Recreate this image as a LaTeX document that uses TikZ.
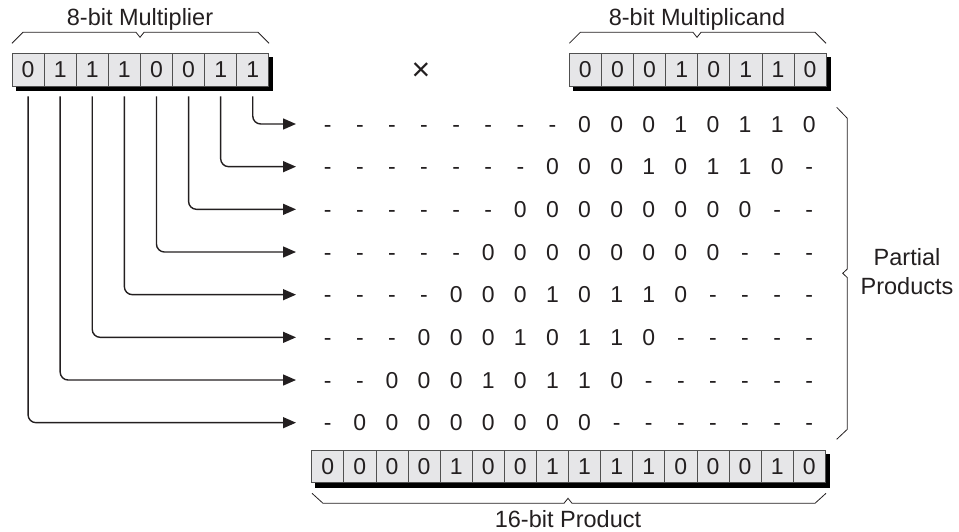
\documentclass[tikz,border=0pt]{standalone}
\usepackage{fontspec}
\setmainfont{Liberation Sans}
\usetikzlibrary{arrows.meta,calc,backgrounds}
\definecolor{ink}{HTML}{231F20}
\definecolor{cellfill}{HTML}{E6E6E8}
\definecolor{cellline}{HTML}{505050}
\begin{document}
\begin{tikzpicture}[x=1pt,y=-1pt,
  cell/.style={draw=cellline, fill=cellfill, line width=0.8pt, minimum width=32.1pt, minimum height=32.7pt, inner sep=0pt, font=\fontsize{23}{23}\selectfont, text=ink},
  bit/.style={font=\fontsize{23}{23}\selectfont, text=ink, inner sep=0pt, anchor=base},
  lbl/.style={font=\fontsize{23.5}{29}\selectfont, text=ink, align=center},
  conn/.style={draw=ink, line width=1.4pt, rounded corners=8pt, -{Triangle[length=13pt,width=11pt]}},
  brace/.style={draw=ink, line width=0.8pt},
  shade/.style={fill=black}]
\useasboundingbox (0,0) rectangle (959,532);
% registers
\foreach \b [count=\i] in {0,1,1,1,0,0,1,1}
  \node[cell] (m\i) at ({12+32.1*(\i-0.5)},69.7) {\b};
\foreach \b [count=\i] in {0,0,0,1,0,1,1,0}
  \node[cell] (c\i) at ({569.3+32.1*(\i-0.5)},69.7) {\b};
\foreach \b [count=\i] in {0,0,0,0,1,0,0,1,1,1,1,0,0,0,1,0}
  \node[cell] (q\i) at ({311.7+32.1*(\i-0.5)},466.3) {\b};
\begin{scope}[on background layer]
  \fill[shade] ($(m1.north west)+(4,4)$) rectangle ($(m8.south east)+(4,4.5)$);
  \fill[shade] ($(c1.north west)+(4,4)$) rectangle ($(c8.south east)+(4,4.5)$);
  \fill[shade] ($(q1.north west)+(4,4)$) rectangle ($(q16.south east)+(4,4.5)$);
\end{scope}
% labels
\node[lbl] (lmul) at (140,19) {8-bit Multiplier};
\node[lbl] (lmcd) at (697,19) {8-bit Multiplicand};
\node[lbl] (lprod) at (568,519) {16-bit Product};
\node[lbl] (lpp) at (907,272) {Partial\\Products};
\node[lbl, font=\fontsize{32}{32}\selectfont] (times) at (421,72) {×};
% braces
\draw[brace] (12,43.3) -- (23,32.3) -- (136,32.3) -- (140,37.3) -- (144,32.3) -- (258,32.3) -- (269,43.3);
\draw[brace] (569.3,43.3) -- (580.3,32.3) -- (693,32.3) -- (697,37.3) -- (701,32.3) -- (815,32.3) -- (826,43.3);
\draw[brace] (312,493.3) -- (323,503.3) -- (564,503.3) -- (568,498.3) -- (572,503.3) -- (815,503.3) -- (826,493.3);
\draw[brace] (836.7,107.3) -- (847.3,118.3) -- (847.3,269) -- (842.7,273.3) -- (847.3,277.6) -- (847.3,429.3) -- (836.7,439.3);
% partial product rows
\foreach \r/\s in {
  1/{-,-,-,-,-,-,-,-,0,0,0,1,0,1,1,0},
  2/{-,-,-,-,-,-,-,0,0,0,1,0,1,1,0,-},
  3/{-,-,-,-,-,-,0,0,0,0,0,0,0,0,-,-},
  4/{-,-,-,-,-,0,0,0,0,0,0,0,0,-,-,-},
  5/{-,-,-,-,0,0,0,1,0,1,1,0,-,-,-,-},
  6/{-,-,-,0,0,0,1,0,1,1,0,-,-,-,-,-},
  7/{-,-,0,0,0,1,0,1,1,0,-,-,-,-,-,-},
  8/{-,0,0,0,0,0,0,0,0,-,-,-,-,-,-,-}} {
  \coordinate (a\r) at (296,{124+42.67*(\r-1)});
  \foreach \c [count=\j] in \s
    \node[bit] (p\r-\j) at ({327.75+32.1*(\j-1)},{124+42.67*(\r-1)+8.2}) {\c};
}
% connectors
\foreach \k [evaluate=\k as \r using int(9-\k)] in {1,...,8}
  \draw[conn] ($(m\k.south)+(0,10)$) |- (a\r);
\end{tikzpicture}
\end{document}
